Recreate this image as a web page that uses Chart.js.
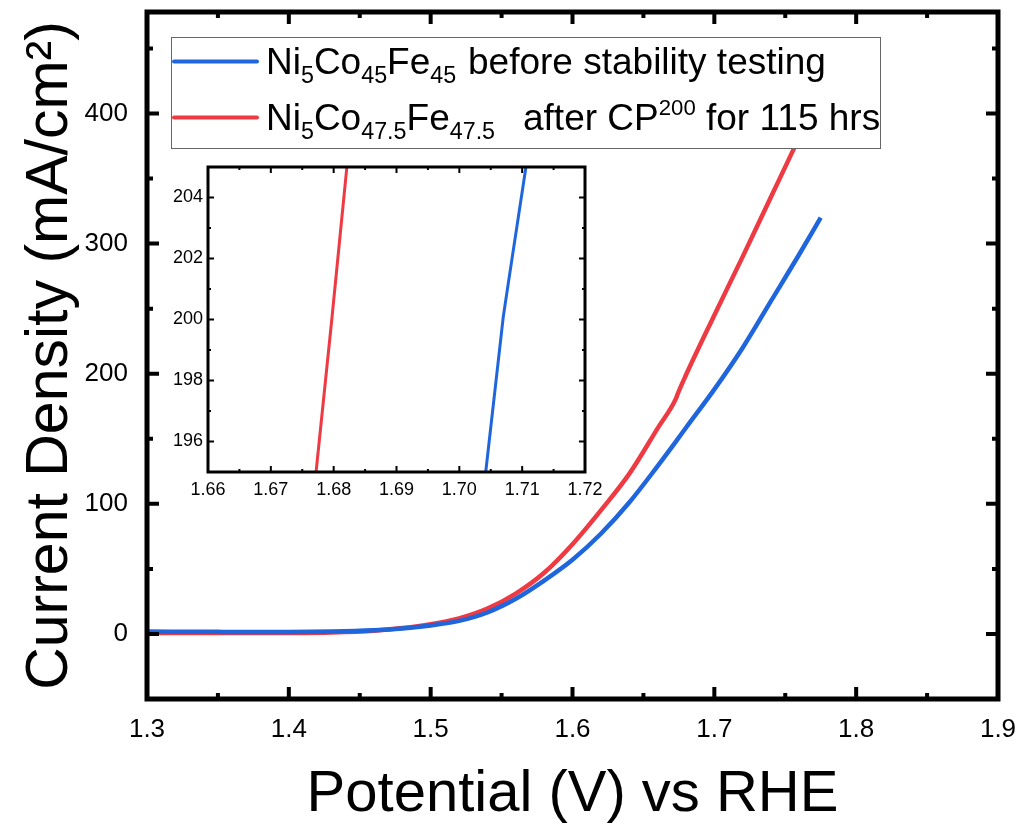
<!DOCTYPE html>
<html>
<head>
<meta charset="utf-8">
<script src="https://cdn.jsdelivr.net/npm/chart.js@4/dist/chart.umd.min.js"></script>
<style>
  body { margin: 0; background: #fff; }
  #wrap { position: relative; width: 1023px; height: 827px; }
  #main { position: absolute; left: 0; top: 0; }
  #insetBox { position: absolute; left: 160px; top: 155px; width: 460px; height: 345px; }
</style>
</head>
<body>
<div id="wrap">
  <canvas id="main" width="1023" height="827"></canvas>
  <div id="insetBox"><canvas id="inset" width="460" height="345"></canvas></div>
</div>
<script>
// ---- data ----
const potential     = [1.30, 1.35, 1.40, 1.43, 1.46, 1.48, 1.50, 1.52, 1.54, 1.56, 1.58, 1.60, 1.62, 1.64, 1.66, 1.673, 1.674, 1.68, 1.70, 1.72, 1.74, 1.76, 1.775];
const beforeCurrent = [1.8, 1.6, 1.5, 1.8, 2.8, 4.2, 6.5, 10, 16.5, 27, 41, 57, 77, 101, 129, 148, 149.5, 158.5, 188, 220, 256, 292, 320];
const afterCurrent  = [0.8, 0.7, 0.8, 1.2, 2.5, 4.5, 7.5, 12, 19.5, 31, 47, 69, 95, 123, 158, 181, 184, 199, 245, 290, 336, 382, 418];

const insetBeforeV = [1.7042, 1.7070, 1.7078, 1.7106];
const insetBeforeJ = [195, 200.1, 201.2, 205];
const insetAfterV  = [1.6772, 1.6797, 1.6821];
const insetAfterJ  = [195, 200, 205];

const xTicks = [1.3, 1.4, 1.5, 1.6, 1.7, 1.8, 1.9];
const yTicks = [0, 100, 200, 300, 400];
const insetXTicks = [1.66, 1.67, 1.68, 1.69, 1.70, 1.71, 1.72];
const insetYTicks = [196, 198, 200, 202, 204];

const BLUE = '#1f66dc';
const RED = '#ee3a42';
const FONT = '"Liberation Sans", Arial, sans-serif';

const legendRows = [
  { color: BLUE, name: [['Ni'], ['5', 'sub'], ['Co'], ['45', 'sub'], ['Fe'], ['45', 'sub']],
    note: [['before stability testing']], noteX: 297 },
  { color: RED, name: [['Ni'], ['5', 'sub'], ['Co'], ['47.5', 'sub'], ['Fe'], ['47.5', 'sub']],
    note: [['after CP'], ['200', 'sup'], [' for 115 hrs']], noteX: 352 }
];

function pairs(xs, ys) { return xs.map((v, i) => ({ x: v, y: ys[i] })); }
function mids(arr) {
  const out = [];
  for (let i = 0; i < arr.length - 1; i++) out.push((arr[i] + arr[i + 1]) / 2);
  return out;
}
// keep the plot box where the picture has it (no label overhang padding)
function fixX(h) { return s => { s.height = h; s.paddingLeft = 0; s.paddingRight = 0; }; }
function fixY(w) { return s => { s.width = w; s.paddingTop = 0; s.paddingBottom = 0; }; }

// white plot background (inset sits over the main chart)
const bgPlugin = {
  id: 'plotBg',
  beforeDraw(chart) {
    const { ctx, chartArea: a } = chart;
    ctx.save();
    ctx.fillStyle = '#fff';
    ctx.fillRect(a.left - 48, a.top - 12, a.right - a.left + 70, a.bottom - a.top + 45);
    ctx.restore();
  }
};

// frame + inward ticks on all four sides
const framePlugin = {
  id: 'frame',
  afterDraw(chart, args, o) {
    const { ctx, chartArea: a } = chart;
    const x = chart.scales.x, y = chart.scales.y;
    ctx.save();
    ctx.strokeStyle = '#000';
    ctx.lineWidth = o.tickWidth;
    ctx.beginPath();
    const xs = [[o.xMajor, o.major], [mids(o.xMajor), o.minor]];
    xs.forEach(([vals, len]) => vals.forEach(v => {
      const p = x.getPixelForValue(v);
      ctx.moveTo(p, a.bottom); ctx.lineTo(p, a.bottom - len);
      ctx.moveTo(p, a.top); ctx.lineTo(p, a.top + len);
    }));
    const ys = [[o.yMajor, o.major], [o.yMinor, o.minor]];
    ys.forEach(([vals, len]) => vals.forEach(v => {
      const p = y.getPixelForValue(v);
      ctx.moveTo(a.left, p); ctx.lineTo(a.left + len, p);
      ctx.moveTo(a.right, p); ctx.lineTo(a.right - len, p);
    }));
    ctx.stroke();
    ctx.lineWidth = o.width;
    ctx.strokeRect(a.left, a.top, a.right - a.left, a.bottom - a.top);
    ctx.restore();
  }
};

function drawRich(ctx, x, y, segs, size) {
  segs.forEach(([t, kind]) => {
    let s = size, dy = 0;
    if (kind === 'sub') { s = size * 0.63; dy = size * 0.27; }
    if (kind === 'sup') { s = size * 0.6; dy = -size * 0.38; }
    ctx.font = s + 'px ' + FONT;
    ctx.fillText(t, x, y + dy);
    x += ctx.measureText(t).width;
  });
}

const legendPlugin = {
  id: 'richLegend',
  afterDatasetsDraw(chart, args, o) {
    const { ctx, chartArea: a } = chart;
    const bx = a.left + 24, by = a.top + 25, bw = 709, bh = 111;
    ctx.save();
    ctx.fillStyle = '#fff';
    ctx.fillRect(bx, by, bw, bh);
    ctx.strokeStyle = '#666';
    ctx.lineWidth = 1;
    ctx.strokeRect(bx + 0.5, by + 0.5, bw, bh);
    legendRows.forEach((row, i) => {
      const ly = by + 24.5 + i * 56;
      ctx.strokeStyle = row.color;
      ctx.lineWidth = 4;
      ctx.lineCap = 'round';
      ctx.beginPath();
      ctx.moveTo(bx + 3, ly); ctx.lineTo(bx + 86, ly);
      ctx.stroke();
      ctx.fillStyle = '#000';
      ctx.textBaseline = 'alphabetic';
      drawRich(ctx, bx + 95, ly + 12, row.name, o.size);
      drawRich(ctx, bx + row.noteX, ly + 12, row.note, o.size);
    });
    ctx.restore();
  }
};

const main = new Chart(document.getElementById('main'), {
  type: 'scatter',
  data: {
    datasets: [
      { data: pairs(potential, beforeCurrent), borderColor: BLUE, borderWidth: 4.5 },
      { data: pairs(potential, afterCurrent), borderColor: RED, borderWidth: 4.5 }
    ]
  },
  options: {
    responsive: false,
    animation: false,
    showLine: true,
    elements: { point: { radius: 0 }, line: { cubicInterpolationMode: 'monotone' } },
    layout: { autoPadding: false, padding: { left: 0, top: 12, right: 25, bottom: 0 } },
    plugins: {
      legend: { display: false },
      tooltip: { enabled: false },
      frame: { width: 5, tickWidth: 4, major: 12, minor: 6, xMajor: xTicks, yMajor: yTicks, yMinor: [-50, 50, 150, 250, 350, 450] },
      richLegend: { size: 37 }
    },
    scales: {
      x: {
        type: 'linear', min: 1.3, max: 1.9,
        afterFit: fixX(128),
        afterBuildTicks: s => { s.ticks = xTicks.map(v => ({ value: v })); },
        grid: { display: false, drawTicks: false },
        border: { display: false },
        ticks: { padding: 15, color: '#000', font: { family: FONT, size: 26 }, callback: v => v.toFixed(1) },
        title: { display: true, text: 'Potential (V) vs RHE', color: '#000', font: { family: FONT, size: 58, lineHeight: 1.1 }, padding: { top: 0, bottom: 0 } }
      },
      y: {
        type: 'linear', min: -50, max: 478,
        afterFit: fixY(147),
        afterBuildTicks: s => { s.ticks = yTicks.map(v => ({ value: v })); },
        grid: { display: false, drawTicks: false },
        border: { display: false },
        ticks: { padding: 19, color: '#000', font: { family: FONT, size: 26 } },
        title: { display: true, text: 'Current Density (mA/cm²)', color: '#000', font: { family: FONT, size: 59 }, padding: { top: 15, bottom: 0 } }
      }
    }
  },
  plugins: [legendPlugin, framePlugin]
});

const inset = new Chart(document.getElementById('inset'), {
  type: 'scatter',
  data: {
    datasets: [
      { data: pairs(insetBeforeV, insetBeforeJ), borderColor: BLUE, borderWidth: 3 },
      { data: pairs(insetAfterV, insetAfterJ), borderColor: RED, borderWidth: 3 }
    ]
  },
  options: {
    responsive: false,
    animation: false,
    showLine: true,
    elements: { point: { radius: 0 } },
    layout: { autoPadding: false, padding: { left: 0, top: 12, right: 35, bottom: 0 } },
    plugins: {
      legend: { display: false },
      tooltip: { enabled: false },
      frame: { width: 3, tickWidth: 2, major: 6, minor: 3, xMajor: insetXTicks, yMajor: insetYTicks, yMinor: [195, 197, 199, 201, 203, 205] }
    },
    scales: {
      x: {
        type: 'linear', min: 1.66, max: 1.72,
        afterFit: fixX(28),
        afterBuildTicks: s => { s.ticks = insetXTicks.map(v => ({ value: v })); },
        grid: { display: false, drawTicks: false },
        border: { display: false },
        ticks: { padding: 7, color: '#000', font: { family: FONT, size: 18 }, callback: v => v.toFixed(2) }
      },
      y: {
        type: 'linear', min: 195, max: 205,
        afterFit: fixY(48),
        afterBuildTicks: s => { s.ticks = insetYTicks.map(v => ({ value: v })); },
        grid: { display: false, drawTicks: false },
        border: { display: false },
        ticks: { padding: 5, color: '#000', font: { family: FONT, size: 18 } }
      }
    }
  },
  plugins: [bgPlugin, framePlugin]
});
</script>
</body>
</html>
